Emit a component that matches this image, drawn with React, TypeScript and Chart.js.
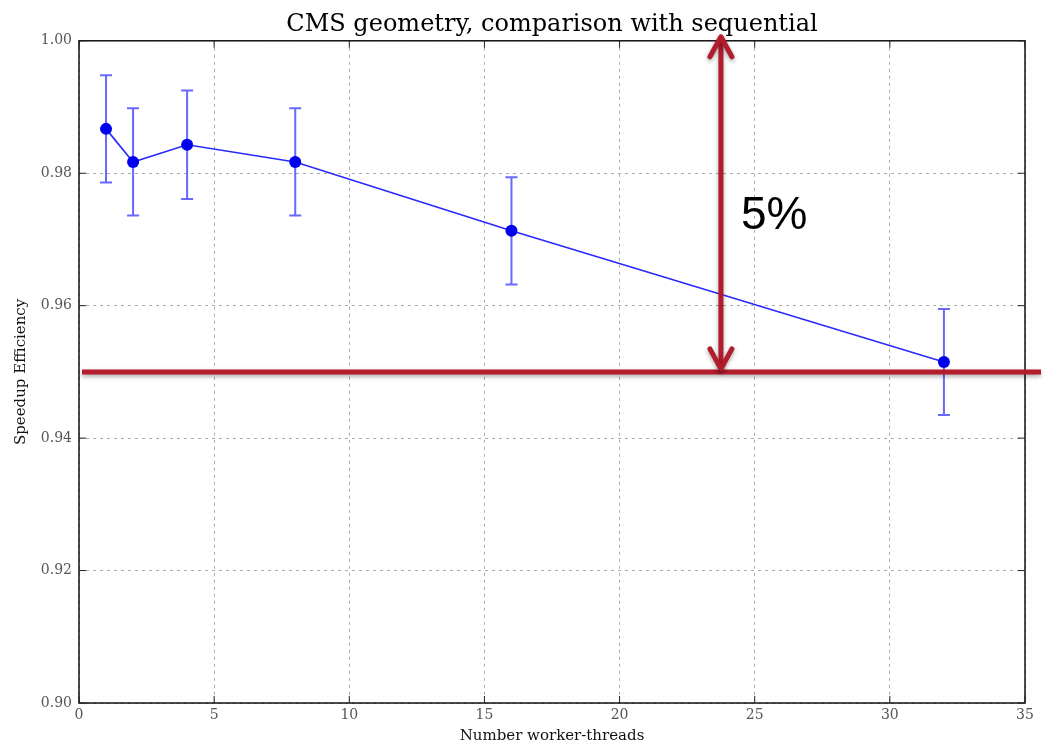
import React, { useEffect, useRef } from "react";
import { Chart, registerables } from "chart.js";

Chart.register(...registerables);

// Measured speedup efficiency per number of worker threads
const THREADS = [1, 2, 4, 8, 16, 32];
const EFFICIENCY = [0.9867, 0.9817, 0.9843, 0.9817, 0.9713, 0.9515];
const ERROR = [0.0081, 0.0081, 0.0082, 0.0081, 0.0081, 0.008];

// Axis ranges
const X_MIN = 0;
const X_MAX = 35;
const X_STEP = 5;
const Y_MIN = 0.9;
const Y_MAX = 1.0;
const Y_STEP = 0.02;

// Annotation: the 5% drop line
const REFERENCE_LEVEL = 0.95;
const GAP_X = 23.75;
const GAP_TOP = 1.0;

const SERIF = "'DejaVu Serif', serif";
const RED = "#b21c2d";

const overlayPlugin = {
  id: "overlay",
  beforeDatasetsDraw(chart: any) {
    const { ctx, chartArea: a, scales } = chart;
    const xs = scales.x;
    const ys = scales.y;
    ctx.save();
    // frame with inward ticks
    ctx.strokeStyle = "#111";
    ctx.lineWidth = 1.5;
    ctx.setLineDash([]);
    ctx.strokeRect(a.left, a.top, a.right - a.left, a.bottom - a.top);
    ctx.lineWidth = 1;
    ctx.strokeStyle = "#222";
    const tl = 7;
    for (let v = X_MIN; v <= X_MAX + 1e-9; v += X_STEP) {
      const px = xs.getPixelForValue(v);
      ctx.beginPath();
      ctx.moveTo(px, a.bottom);
      ctx.lineTo(px, a.bottom - tl);
      ctx.moveTo(px, a.top);
      ctx.lineTo(px, a.top + tl);
      ctx.stroke();
    }
    for (let v = Y_MIN; v <= Y_MAX + 1e-9; v += Y_STEP) {
      const py = ys.getPixelForValue(v);
      ctx.beginPath();
      ctx.moveTo(a.left, py);
      ctx.lineTo(a.left + tl, py);
      ctx.moveTo(a.right, py);
      ctx.lineTo(a.right - tl, py);
      ctx.stroke();
    }
    // error bars
    ctx.strokeStyle = "rgba(40, 40, 255, 0.7)";
    ctx.lineWidth = 2;
    THREADS.forEach((t, i) => {
      const px = xs.getPixelForValue(t);
      const top = ys.getPixelForValue(EFFICIENCY[i] + ERROR[i]);
      const bot = ys.getPixelForValue(EFFICIENCY[i] - ERROR[i]);
      ctx.beginPath();
      ctx.moveTo(px, top);
      ctx.lineTo(px, bot);
      ctx.moveTo(px - 6, top);
      ctx.lineTo(px + 6, top);
      ctx.moveTo(px - 6, bot);
      ctx.lineTo(px + 6, bot);
      ctx.stroke();
    });
    ctx.restore();
  },
  afterDraw(chart: any) {
    const { ctx, chartArea: a, scales } = chart;
    const xs = scales.x;
    const ys = scales.y;
    const yRef = ys.getPixelForValue(REFERENCE_LEVEL);
    const yTop = ys.getPixelForValue(GAP_TOP);
    const xArrow = xs.getPixelForValue(GAP_X);
    ctx.save();
    ctx.shadowColor = "rgba(0, 0, 0, 0.35)";
    ctx.shadowBlur = 4;
    ctx.shadowOffsetY = 2;
    ctx.strokeStyle = RED;
    ctx.lineCap = "butt";
    // horizontal reference line
    ctx.lineWidth = 5;
    ctx.beginPath();
    ctx.moveTo(a.left + 3, yRef);
    ctx.lineTo(a.right + 16, yRef);
    ctx.stroke();
    // double-headed arrow
    ctx.lineWidth = 5;
    ctx.lineJoin = "round";
    ctx.lineCap = "round";
    const t = yTop - 4;
    const b = yRef - 3;
    ctx.beginPath();
    ctx.moveTo(xArrow, t + 2);
    ctx.lineTo(xArrow, b - 2);
    ctx.stroke();
    ctx.beginPath();
    ctx.moveTo(xArrow - 11, t + 20);
    ctx.lineTo(xArrow, t);
    ctx.lineTo(xArrow + 11, t + 20);
    ctx.stroke();
    ctx.beginPath();
    ctx.moveTo(xArrow - 11, b - 20);
    ctx.lineTo(xArrow, b);
    ctx.lineTo(xArrow + 11, b - 20);
    ctx.stroke();
    // gap label
    ctx.shadowColor = "transparent";
    ctx.fillStyle = "#000";
    ctx.font = "46px 'Liberation Sans', Arial, sans-serif";
    ctx.textAlign = "left";
    ctx.textBaseline = "alphabetic";
    const pct = Math.round((GAP_TOP - REFERENCE_LEVEL) * 100);
    ctx.fillText(`${pct}%`, xArrow + 20, (yTop + yRef) / 2 + 23);
    ctx.restore();
  },
};

export default function App() {
  const canvasRef = useRef<HTMLCanvasElement | null>(null);

  useEffect(() => {
    if (!canvasRef.current) return;
    const chart = new Chart(canvasRef.current, {
      type: "line",
      data: {
        datasets: [
          {
            data: THREADS.map((t, i) => ({ x: t, y: EFFICIENCY[i] })),
            borderColor: "#2a2aff",
            borderWidth: 1.6,
            backgroundColor: "#0000ee",
            pointBackgroundColor: "#0000ee",
            pointBorderColor: "#0000ee",
            pointRadius: 6,
            pointBorderWidth: 0,
            tension: 0,
            fill: false,
          },
        ],
      },
      options: {
        animation: false,
        responsive: true,
        maintainAspectRatio: false,
        layout: { padding: { left: 0, right: 25, top: 0, bottom: 0 } },
        plugins: {
          legend: { display: false },
          tooltip: { enabled: false },
          title: {
            display: true,
            fullSize: false,
            text: "CMS geometry, comparison with sequential",
            color: "#000",
            font: { family: SERIF, size: 24, weight: "normal", lineHeight: 1.2 },
            padding: { top: 10, bottom: 2 },
          },
        },
        scales: {
          x: {
            type: "linear",
            min: X_MIN,
            max: X_MAX,
            ticks: {
              stepSize: X_STEP,
              color: "#555",
              font: { family: SERIF, size: 14 },
              padding: 4,
              maxRotation: 0,
            },
            grid: { color: "#aaa", lineWidth: 1, drawTicks: false },
            border: { display: false, dash: [3, 4] },
            title: {
              display: true,
              text: "Number worker-threads",
              color: "#111",
              font: { family: SERIF, size: 15 },
              padding: { top: 0, bottom: 2 },
            },
            afterFit: (s: any) => {
              s.height = 44;
            },
          },
          y: {
            type: "linear",
            min: Y_MIN,
            max: Y_MAX,
            ticks: {
              stepSize: Y_STEP,
              color: "#555",
              font: { family: SERIF, size: 14 },
              padding: 7,
              callback: (v: any) => Number(v).toFixed(2),
            },
            grid: { color: "#aaa", lineWidth: 1, drawTicks: false },
            border: { display: false, dash: [3, 4] },
            title: {
              display: true,
              text: "Speedup Efficiency",
              color: "#111",
              font: { family: SERIF, size: 15 },
              padding: { top: 12, bottom: 0 },
            },
            afterFit: (s: any) => {
              s.width = 79;
            },
          },
        },
      },
      plugins: [overlayPlugin],
    });
    return () => chart.destroy();
  }, []);

  return (
    <div
      style={{
        position: "absolute",
        left: 0,
        top: 0,
        width: 1050,
        height: 747,
        background: "#fff",
      }}
    >
      <canvas ref={canvasRef} />
    </div>
  );
}
